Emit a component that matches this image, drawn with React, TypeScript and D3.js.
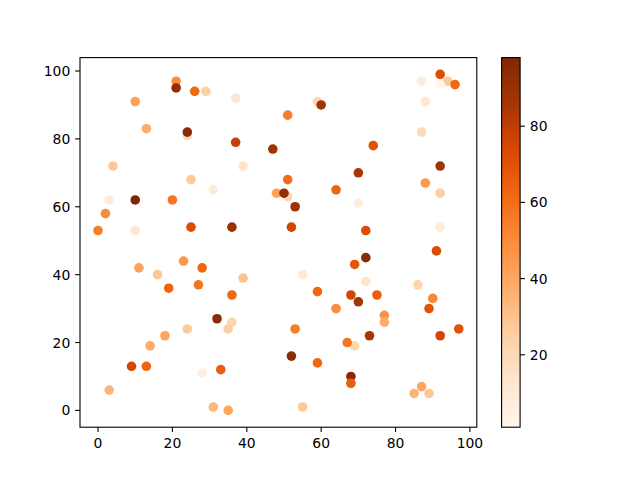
import React from 'react';
import * as d3 from 'd3';

const xVals = [
  21, 21, 26, 29, 37, 10, 13, 24, 24, 37, 47, 4, 39, 25, 31, 3, 10, 20, 2, 0, 10, 25, 36, 48, 51, 50,
  51, 59, 60, 51, 53, 52, 64, 70, 70, 74, 72, 87, 92, 94, 92, 96, 88, 87, 92, 88, 92, 92,
  11, 16, 23, 28, 19, 27, 39, 36, 32, 36, 35, 24, 18, 14, 9, 13, 28, 33, 3, 31, 35,
  55, 59, 53, 52, 59, 55, 64, 69, 72, 72, 68, 70, 75, 77, 77, 69, 67, 73, 68, 68, 91, 86, 90, 89, 97, 92, 87, 85, 89,
];
const yVals = [
  97, 95, 94, 94, 92, 91, 83, 81, 82, 79, 77, 72, 72, 68, 65, 62, 62, 62, 58, 53, 53, 54, 54, 64, 63, 64,
  87, 91, 90, 68, 60, 54, 65, 70, 61, 78, 53, 97, 99, 97, 96, 96, 91, 82, 72, 67, 64, 54,
  42, 40, 44, 42, 36, 37, 39, 34, 27, 26, 24, 24, 22, 19, 13, 13, 11, 12, 6, 1, 0,
  40, 35, 24, 16, 14, 1, 30, 43, 45, 38, 34, 32, 34, 28, 26, 19, 20, 22, 10, 8, 47, 37, 33, 30, 24, 22, 7, 5, 5,
];
const cVals = [
  50, 92, 62, 25, 12, 42, 38, 20, 95, 78, 88, 28, 14, 27, 8, 10, 98, 58, 50, 55, 12, 72, 90, 42, 22, 92,
  55, 22, 87, 60, 88, 75, 63, 85, 7, 70, 72, 8, 72, 28, 1, 62, 12, 20, 88, 45, 25, 9,
  42, 28, 45, 62, 63, 58, 30, 62, 95, 22, 25, 27, 40, 38, 75, 63, 6, 65, 35, 33, 40,
  10, 62, 55, 95, 62, 28, 50, 68, 95, 14, 75, 87, 65, 48, 38, 22, 58, 85, 95, 65, 72, 22, 52, 70, 70, 75, 40, 35, 28,
];

const xTicks = [0, 20, 40, 60, 80, 100];
const yTicks = [0, 20, 40, 60, 80, 100];
const cbTicks = [20, 40, 60, 80];
const orangesStops = ['#fff5eb', '#fee6ce', '#fdd0a2', '#fdae6b', '#fd8d3c', '#f16913', '#d94801', '#a63603', '#7f2704'];

export default function App() {
  const W = 640;
  const H = 480;
  const ax = { l: 80, r: 476.8, t: 57.6, b: 427.2 };
  const cb = { l: 501.6, r: 520.1, t: 57.6, b: 427.2 };
  const tickLen = 4.86;
  const pad = 4.86;
  const font = '"DejaVu Sans", sans-serif';
  const fs = 13.9;

  const [xmin, xmax] = d3.extent(xVals) as [number, number];
  const [ymin, ymax] = d3.extent(yVals) as [number, number];
  const [cmin, cmax] = d3.extent(cVals) as [number, number];
  const xm = 0.05 * (xmax - xmin);
  const ym = 0.05 * (ymax - ymin);
  const x = d3.scaleLinear().domain([xmin - xm, xmax + xm]).range([ax.l, ax.r]);
  const y = d3.scaleLinear().domain([ymin - ym, ymax + ym]).range([ax.b, ax.t]);
  const cmap = d3
    .scaleLinear<string>()
    .domain(d3.range(9).map((i) => i / 8))
    .range(orangesStops)
    .interpolate(d3.interpolateRgb)
    .clamp(true);
  const color = (v: number) => cmap((v - cmin) / (cmax - cmin));
  const cy = d3.scaleLinear().domain([cmin, cmax]).range([cb.b, cb.t]);

  const gradStops = d3.range(0, 257).map((i) => i / 256);

  return (
    <svg
      width={W}
      height={H}
      style={{ position: 'absolute', left: 0, top: 0, display: 'block', background: '#fff' }}
    >
      <defs>
        <clipPath id="axclip">
          <rect x={ax.l} y={ax.t} width={ax.r - ax.l} height={ax.b - ax.t} />
        </clipPath>
        <linearGradient id="cbgrad" x1="0" y1="1" x2="0" y2="0">
          {gradStops.map((t, i) => (
            <stop key={i} offset={t} stopColor={cmap(t)} />
          ))}
        </linearGradient>
      </defs>
      <rect x={0} y={0} width={W} height={H} fill="#fff" />
      <g clipPath="url(#axclip)">
        {xVals.map((xv, i) => (
          <circle key={i} cx={x(xv)} cy={y(yVals[i])} r={4.8} fill={color(cVals[i])} />
        ))}
      </g>
      <rect x={ax.l} y={ax.t} width={ax.r - ax.l} height={ax.b - ax.t} fill="none" stroke="#000" strokeWidth={1.1} />
      {xTicks.map((t) => (
        <g key={'x' + t}>
          <line x1={x(t)} x2={x(t)} y1={ax.b} y2={ax.b + tickLen} stroke="#000" strokeWidth={1.1} />
          <text x={x(t)} y={ax.b + tickLen + pad + 10.6} textAnchor="middle" fontFamily={font} fontSize={fs} fill="#000">
            {t}
          </text>
        </g>
      ))}
      {yTicks.map((t) => (
        <g key={'y' + t}>
          <line x1={ax.l - tickLen} x2={ax.l} y1={y(t)} y2={y(t)} stroke="#000" strokeWidth={1.1} />
          <text x={ax.l - tickLen - pad} y={y(t) + 5} textAnchor="end" fontFamily={font} fontSize={fs} fill="#000">
            {t}
          </text>
        </g>
      ))}
      <rect x={cb.l} y={cb.t} width={cb.r - cb.l} height={cb.b - cb.t} fill="url(#cbgrad)" />
      <rect x={cb.l} y={cb.t} width={cb.r - cb.l} height={cb.b - cb.t} fill="none" stroke="#000" strokeWidth={1.1} />
      {cbTicks.map((t) => (
        <g key={'c' + t}>
          <line x1={cb.r} x2={cb.r + tickLen} y1={cy(t)} y2={cy(t)} stroke="#000" strokeWidth={1.1} />
          <text x={cb.r + tickLen + pad} y={cy(t) + 5} textAnchor="start" fontFamily={font} fontSize={fs} fill="#000">
            {t}
          </text>
        </g>
      ))}
    </svg>
  );
}
